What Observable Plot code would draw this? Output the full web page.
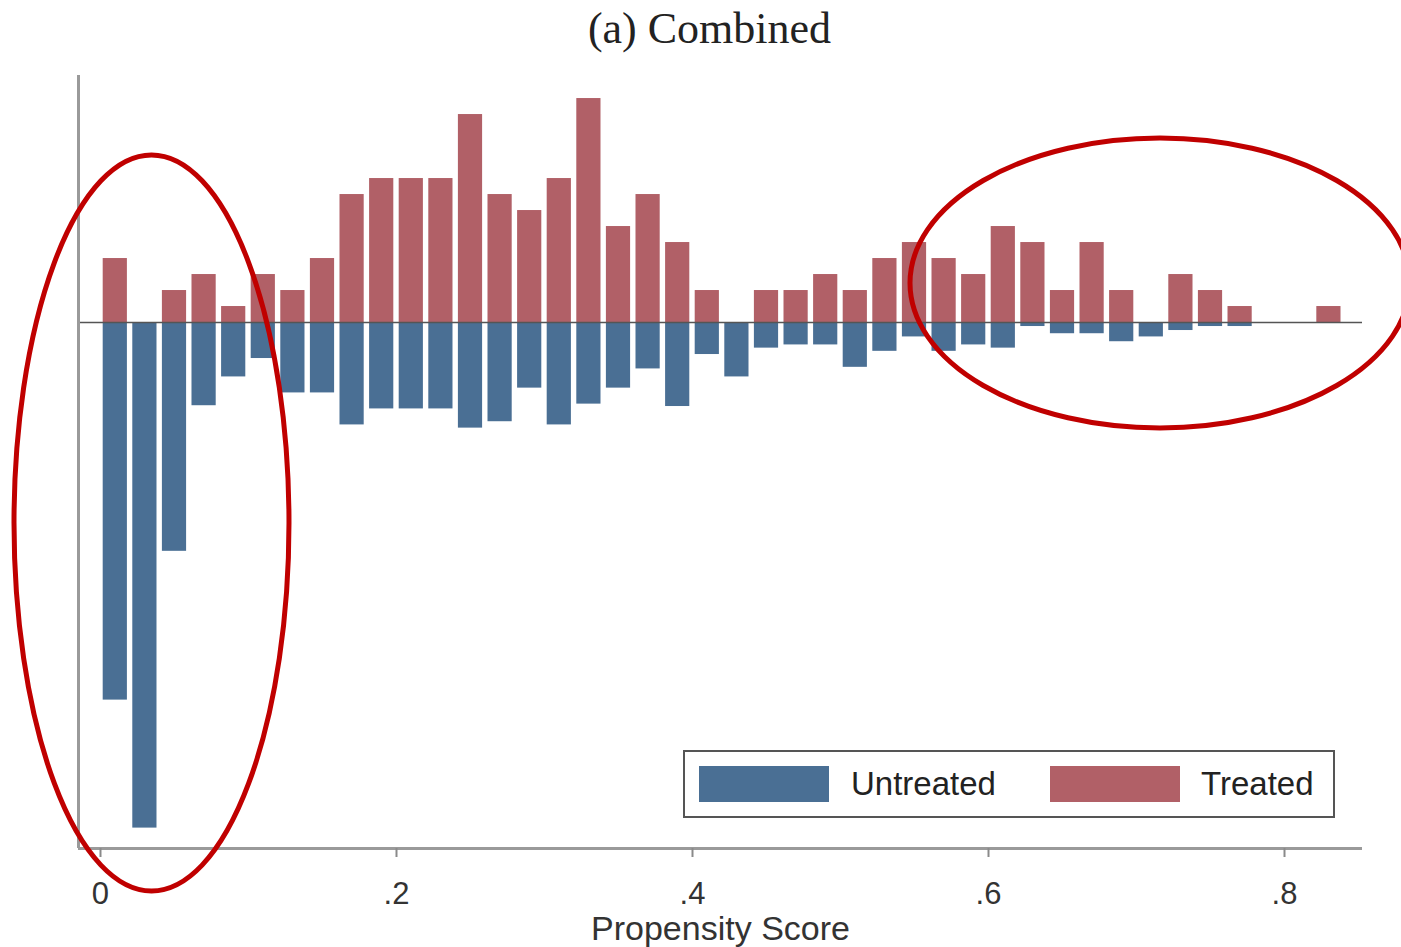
<!DOCTYPE html>
<html>
<head>
<meta charset="utf-8">
<script src="https://cdn.jsdelivr.net/npm/d3@7"></script>
<script src="https://cdn.jsdelivr.net/npm/@observablehq/plot@0.6"></script>
<style>
  html, body { margin: 0; padding: 0; background: #fff; }
  #wrap { position: relative; width: 1401px; height: 947px; }
  #legend {
    position: absolute; left: 683px; top: 750px; width: 648px; height: 64px;
    border: 2px solid #555; background: #fff; box-sizing: content-box;
    font-family: "Liberation Sans", Arial, sans-serif; font-size: 33px; color: #222;
  }
  .sw { position: absolute; top: 14px; width: 130px; height: 36px; }
  .lt { position: absolute; top: 14px; line-height: 36px; }
</style>
</head>
<body>
<div id="wrap"></div>
<script>
// Histogram bins (propensity score, bin width 0.02)
const binWidth = 0.02;
const binStart = [0.00, 0.02, 0.04, 0.06, 0.08, 0.10, 0.12, 0.14, 0.16, 0.18,
                  0.20, 0.22, 0.24, 0.26, 0.28, 0.30, 0.32, 0.34, 0.36, 0.38,
                  0.40, 0.42, 0.44, 0.46, 0.48, 0.50, 0.52, 0.54, 0.56, 0.58,
                  0.60, 0.62, 0.64, 0.66, 0.68, 0.70, 0.72, 0.74, 0.76, 0.78,
                  0.80, 0.82];
// Treated (drawn upward)
const treated = [4, 0, 2, 3, 1, 3, 2, 4, 8, 9,
                 9, 9, 13, 8, 7, 9, 14, 6, 8, 5,
                 2, 0, 2, 2, 3, 2, 4, 5, 4, 3,
                 6, 5, 2, 5, 2, 0, 3, 2, 1, 0,
                 0, 1];
// Untreated (drawn downward)
const untreated = [23.6, 31.6, 14.3, 5.2, 3.4, 2.25, 4.4, 4.4, 6.4, 5.4,
                   5.4, 5.4, 6.6, 6.2, 4.1, 6.4, 5.1, 4.1, 2.9, 5.25,
                   2.0, 3.4, 1.6, 1.4, 1.4, 2.8, 1.8, 0.9, 1.8, 1.4,
                   1.6, 0.25, 0.7, 0.7, 1.2, 0.9, 0.5, 0.25, 0.25, 0,
                   0, 0];
const xTicks = [0, 0.2, 0.4, 0.6, 0.8];
const xTickLabels = ["0", ".2", ".4", ".6", ".8"];
const seriesNames = ["Untreated", "Treated"];
const seriesColors = ["#4a6f94", "#b16067"];
const titleText = "(a) Combined";
const xLabel = "Propensity Score";
// Red hand-drawn annotation ellipses (data coordinates)
const annotCx = [0.0348, 0.7162];
const annotCy = [-12.56, 2.44];
const annotRx = [0.0929, 0.1689];
const annotRy = [23.0, 9.06];

const xDomain = [-0.01486, 0.8527];
const yDomain = [-32.875, 15.44];

const rows = binStart.map((s, i) => ({x1: s, x2: s + binWidth, t: treated[i], u: untreated[i]}));
const ellipses = annotCx.map((cx, i) => ({cx, cy: annotCy[i], rx: annotRx[i], ry: annotRy[i]}));

const chart = Plot.plot({
  width: 1401,
  height: 947,
  marginLeft: 78,
  marginRight: 39,
  marginTop: 75,
  marginBottom: 99,
  x: {domain: xDomain},
  y: {domain: yDomain, axis: null},
  style: {fontFamily: "'Liberation Sans', Arial, sans-serif", background: "#fff", overflow: "visible"},
  marks: [
    Plot.rectY(rows.filter(d => d.u > 0), {x1: "x1", x2: "x2", y1: 0, y2: d => -d.u, fill: seriesColors[0], insetLeft: 2.7, insetRight: 2.7}),
    Plot.rectY(rows.filter(d => d.t > 0), {x1: "x1", x2: "x2", y1: 0, y2: "t", fill: seriesColors[1], insetLeft: 2.7, insetRight: 2.7}),
    Plot.ruleY([0], {stroke: "#555", strokeWidth: 1.5}),
    Plot.ruleY([yDomain[0]], {stroke: "#9a9a9a", strokeWidth: 3}),
    Plot.ruleX([xDomain[0]], {stroke: "#9a9a9a", strokeWidth: 3}),
    Plot.axisX({
      ticks: xTicks,
      tickFormat: d => xTickLabels[xTicks.indexOf(d)],
      tickSize: 9,
      tickPadding: 24,
      fontSize: 31,
      stroke: "#8a8a8a",
      strokeWidth: 2,
      fill: "#333",
      label: null
    }),
    Plot.text([xLabel], {frameAnchor: "bottom", dy: 81, fontSize: 34, fill: "#333", lineAnchor: "middle"}),
    Plot.text([titleText], {frameAnchor: "top", dy: -47, dx: -11, fontSize: 44, fill: "#222",
      fontFamily: "'Liberation Serif', 'Times New Roman', serif", lineAnchor: "middle"}),
    (index, scales) => {
      const g = d3.create("svg:g");
      for (const e of ellipses) {
        const cx = scales.x(e.cx), cy = scales.y(e.cy);
        const rx = Math.abs(scales.x(e.cx + e.rx) - cx);
        const ry = Math.abs(scales.y(e.cy + e.ry) - cy);
        g.append("ellipse").attr("cx", cx).attr("cy", cy).attr("rx", rx).attr("ry", ry)
          .attr("fill", "none").attr("stroke", "#c00000").attr("stroke-width", 5);
      }
      return g.node();
    }
  ]
});

const wrap = document.getElementById("wrap");
wrap.appendChild(chart);

// Legend
const legend = document.createElement("div");
legend.id = "legend";
const swLeft = [14, 365];
const txtLeft = [166, 516];
seriesNames.forEach((name, i) => {
  const sw = document.createElement("div");
  sw.className = "sw";
  sw.style.left = swLeft[i] + "px";
  sw.style.background = seriesColors[i];
  legend.appendChild(sw);
  const t = document.createElement("div");
  t.className = "lt";
  t.style.left = txtLeft[i] + "px";
  t.textContent = name;
  legend.appendChild(t);
});
wrap.appendChild(legend);
</script>
</body>
</html>
